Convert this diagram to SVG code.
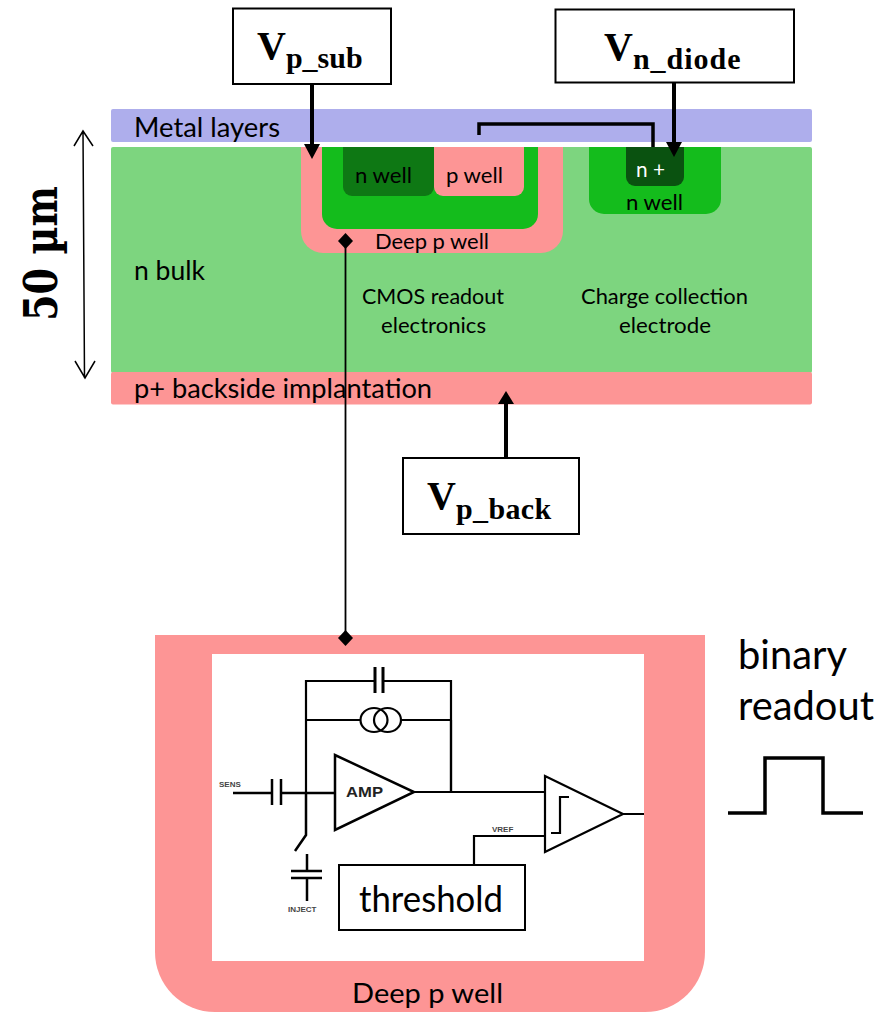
<svg xmlns="http://www.w3.org/2000/svg" width="882" height="1012" viewBox="0 0 882 1012">
<style>
.c{font-family:Lato,"Open Sans","Liberation Sans",sans-serif;fill:#000}
.s{font-family:"Liberation Serif","DejaVu Serif",serif;font-weight:bold;fill:#000}
.box{fill:#fff;stroke:#000;stroke-width:2}
.w{fill:none;stroke:#000;stroke-width:2.200;stroke-linejoin:miter}
.t{fill:none;stroke:#000;stroke-width:3.500}
.l{font-family:"Liberation Sans",sans-serif;font-weight:bold;fill:#444;font-size:8px}
</style>
<defs>
<marker id="d" markerUnits="userSpaceOnUse" markerWidth="16" markerHeight="16" refX="8" refY="8" orient="auto"><path d="M0 8L8 0.500L16 8L8 15.500Z" fill="#000"/></marker>
</defs>
<rect width="882" height="1012" fill="#fff"/>
<g id="metal"><rect x="111" y="109" width="701" height="33" rx="2" fill="#aeaeec"/><text class="c" x="134" y="137" font-size="26" textLength="146" lengthAdjust="spacingAndGlyphs">Metal layers</text></g>
<g id="bulk"><rect x="111" y="147" width="701" height="226" rx="2" fill="#7dd57f"/><text class="c" x="134" y="280" font-size="26" textLength="71" lengthAdjust="spacingAndGlyphs">n bulk</text></g>
<g id="backside"><rect x="111" y="372" width="701" height="32.500" rx="2" fill="#fd9595"/><text class="c" x="134" y="398" font-size="26" textLength="298" lengthAdjust="spacingAndGlyphs">p+ backside implantation</text></g>
<g id="deep-p-well"><path d="M301 147H563V231a22 22 0 0 1-22 22H323a22 22 0 0 1-22-22Z" fill="#fd9595"/><text class="c" x="375" y="249" font-size="21" textLength="114" lengthAdjust="spacingAndGlyphs">Deep p well</text></g>
<g id="deep-n-well"><path d="M322 147H538V214a15 15 0 0 1-15 15H337a15 15 0 0 1-15-15Z" fill="#14bc1c"/></g>
<g id="n-well-inner"><path d="M343 147H434V187a9 9 0 0 1-9 9H352a9 9 0 0 1-9-9Z" fill="#0e7814"/><text class="c" x="355" y="183" font-size="21" textLength="57" lengthAdjust="spacingAndGlyphs">n well</text></g>
<g id="p-well-inner"><path d="M434 147H524V187a9 9 0 0 1-9 9H443a9 9 0 0 1-9-9Z" fill="#fd9595"/><text class="c" x="446" y="183" font-size="21" textLength="57" lengthAdjust="spacingAndGlyphs">p well</text></g>
<g id="n-well-right"><path d="M589 147H721V199a15 15 0 0 1-15 15H604a15 15 0 0 1-15-15Z" fill="#14bc1c"/><text class="c" x="626" y="210" font-size="21" textLength="57" lengthAdjust="spacingAndGlyphs">n well</text></g>
<g id="n-plus"><path d="M626 147H684V177a9 9 0 0 1-9 9H635a9 9 0 0 1-9-9Z" fill="#0a5210"/><text class="c" x="636" y="177" font-size="21" textLength="29" lengthAdjust="spacingAndGlyphs" style="fill:#fff">n +</text></g>
<text class="c" x="362" y="304" font-size="21" textLength="142" lengthAdjust="spacingAndGlyphs">CMOS readout</text>
<text class="c" x="381" y="333" font-size="21" textLength="105" lengthAdjust="spacingAndGlyphs">electronics</text>
<text class="c" x="581" y="304" font-size="21" textLength="167" lengthAdjust="spacingAndGlyphs">Charge collection</text>
<text class="c" x="619" y="333" font-size="21" textLength="92" lengthAdjust="spacingAndGlyphs">electrode</text>
<g id="readout-well"><path d="M155 635H705V952a60 60 0 0 1-60 60H215a60 60 0 0 1-60-60Z" fill="#fd9595"/><rect x="212" y="654" width="432" height="307" fill="#fff"/><text class="c" x="352" y="1003" font-size="27" textLength="151" lengthAdjust="spacingAndGlyphs">Deep p well</text></g>
<g id="vp-sub"><rect class="box" x="233" y="8.500" width="158" height="75.500"/><text class="s" x="257" y="59" font-size="40">V<tspan font-size="30" dy="9">p_sub</tspan></text></g>
<g id="vn-diode"><rect class="box" x="555.500" y="9.500" width="238.500" height="73"/><text class="s" x="604" y="60" font-size="40">V<tspan font-size="30" dy="9" letter-spacing="1">n_diode</tspan></text></g>
<g id="vp-back"><rect class="box" x="403" y="458" width="176" height="76"/><text class="s" x="427" y="509" font-size="40">V<tspan font-size="30" dy="10" letter-spacing="0.400">p_back</tspan></text></g>
<text transform="translate(57 321) rotate(-90)" font-family="DejaVu Serif,serif" font-weight="bold" font-size="46" textLength="135" lengthAdjust="spacingAndGlyphs">50 µm</text>
<g id="connectors">
<path d="M312 84V150" stroke="#000" stroke-width="4" fill="none"/><path d="M304 144H320L312 159Z"/>
<path d="M674 82V146" stroke="#000" stroke-width="4" fill="none"/><path d="M666 142H682L674 157Z"/>
<path d="M479 135V124H653V147" stroke="#000" stroke-width="3.500" fill="none"/>
<path d="M506 458V404" stroke="#000" stroke-width="4" fill="none"/><path d="M498 404H514L506 391Z"/>
<path d="M345.500 241V638" stroke="#000" stroke-width="1.800" fill="none" marker-start="url(#d)" marker-end="url(#d)"/>
<path d="M83 131L84.500 378M74 146L83 131L93 146M75 361L85 378L95 361" stroke="#000" stroke-width="1.500" fill="none"/>
</g>
<g id="circuit">
<path class="w" d="M306 792V681H375M383 681H451V792M306 720H360M401 720H451"/>
<path class="w" d="M375 667V693M383 667V693" style="stroke-width:3"/>
<ellipse class="w" cx="374" cy="720" rx="13.500" ry="12"/><ellipse class="w" cx="387.500" cy="720" rx="13.500" ry="12"/>
<path class="w" d="M233 793H272M281 793H335M272 779V805M281 779V805" style="stroke-width:2.500"/>
<path class="w" d="M306 792V835L295 851" style="stroke-width:2.500"/>
<path class="w" d="M335 755V830L414 792Z" style="stroke-width:2.500"/>
<path class="w" d="M414 792H545M451 792V720"/>
<path class="w" d="M545 776V852L623 814ZM623 814H644M474 865V836H545"/>
<path class="w" d="M551 833H560V797H569"/>
<path class="w" d="M307 854V872M291 871H322M291 878H322M307 878V901" style="stroke-width:2.500"/>
<text class="l" x="219" y="787">SENS</text>
<text class="l" x="288" y="912">INJECT</text>
<text class="l" x="492" y="832">VREF</text>
<text x="346" y="797" font-family="Liberation Sans,sans-serif" font-weight="bold" font-size="14" fill="#222" textLength="37" lengthAdjust="spacingAndGlyphs">AMP</text>
</g>
<g id="threshold"><rect class="box" x="339" y="865" width="186" height="65"/><text class="c" x="359" y="912" font-size="37" textLength="144" lengthAdjust="spacingAndGlyphs">threshold</text></g>
<g id="binary-readout"><text class="c" x="738" y="669" font-size="40" textLength="109" lengthAdjust="spacingAndGlyphs">binary</text><text class="c" x="738" y="720" font-size="40" textLength="136" lengthAdjust="spacingAndGlyphs">readout</text>
<path class="t" d="M728 813H765V758H823V813H863"/></g>
</svg>
